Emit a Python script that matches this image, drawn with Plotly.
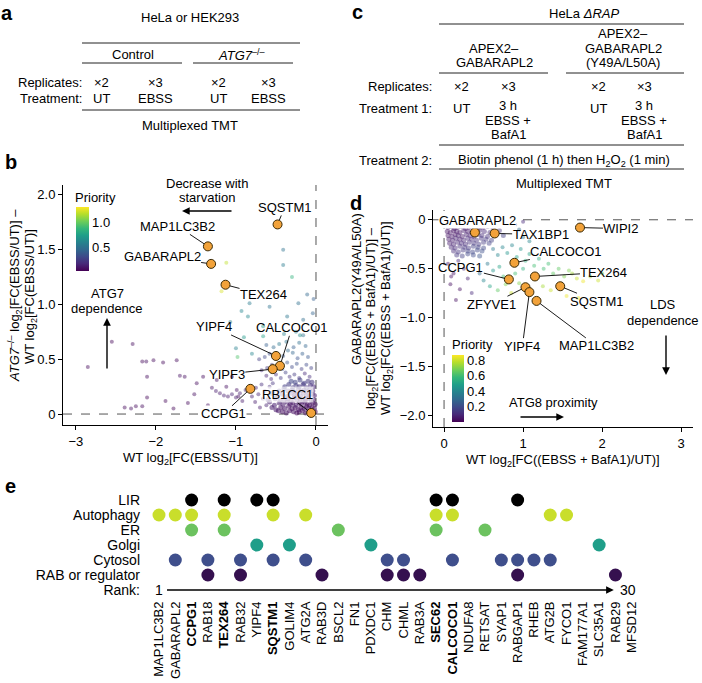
import plotly.graph_objects as go

W, H = 702, 683
FONT = "Liberation Sans, Arial, sans-serif"

# ---------------- panel b data ----------------
# dense low-priority core near the origin
b_core_x = [-0.01, -0.04, -0.07, -0.10, -0.13, -0.17, -0.21, -0.24, -0.28, -0.33, -0.37, -0.42, -0.47,
            -0.02, -0.05, -0.09, -0.12, -0.15, -0.19, -0.22, -0.26, -0.30, -0.34, -0.39, -0.44, -0.50, -0.55,
            -0.01, -0.04, -0.08, -0.11, -0.14, -0.18, -0.21, -0.25, -0.29, -0.32, -0.36, -0.41, -0.46, -0.52, -0.58,
            -0.03, -0.06, -0.10, -0.13, -0.16, -0.20, -0.24, -0.27, -0.31, -0.35, -0.40, -0.45, -0.51, -0.60,
            -0.02, -0.05, -0.09, -0.12, -0.16, -0.19, -0.23, -0.27, -0.31, -0.36, -0.42, -0.48, -0.56,
            -0.04, -0.08, -0.11, -0.15, -0.19, -0.22, -0.26, -0.30, -0.35, -0.40, -0.46,
            -0.03, -0.07, -0.12, -0.16, -0.21, -0.25, -0.29, -0.34, -0.39,
            -0.05, -0.10, -0.15, -0.20, -0.26, -0.31]
b_core_y = [0.02, 0.01, 0.03, 0.02, 0.01, 0.03, 0.02, 0.01, 0.02, 0.03, 0.01, 0.02, 0.03,
            0.05, 0.06, 0.05, 0.07, 0.05, 0.06, 0.04, 0.06, 0.05, 0.07, 0.05, 0.06, 0.04, 0.06,
            0.09, 0.10, 0.08, 0.09, 0.11, 0.09, 0.10, 0.08, 0.10, 0.09, 0.11, 0.09, 0.10, 0.08, 0.11,
            0.13, 0.12, 0.14, 0.13, 0.12, 0.14, 0.13, 0.15, 0.12, 0.14, 0.13, 0.12, 0.14, 0.13,
            0.17, 0.18, 0.16, 0.17, 0.19, 0.16, 0.18, 0.17, 0.19, 0.16, 0.18, 0.17, 0.19,
            0.21, 0.22, 0.20, 0.22, 0.21, 0.23, 0.20, 0.22, 0.21, 0.23, 0.21,
            0.25, 0.26, 0.24, 0.27, 0.25, 0.26, 0.24, 0.27, 0.25,
            0.29, 0.30, 0.28, 0.31, 0.29, 0.30]
b_core_p = [0.03, 0.02, 0.04, 0.03, 0.05, 0.02, 0.04, 0.03, 0.05, 0.04, 0.06, 0.05, 0.07,
            0.04, 0.03, 0.05, 0.04, 0.06, 0.03, 0.05, 0.04, 0.06, 0.05, 0.07, 0.06, 0.08, 0.09,
            0.05, 0.04, 0.06, 0.05, 0.07, 0.05, 0.06, 0.08, 0.06, 0.07, 0.09, 0.08, 0.10, 0.11, 0.12,
            0.07, 0.06, 0.08, 0.07, 0.09, 0.08, 0.10, 0.09, 0.11, 0.10, 0.12, 0.13, 0.14, 0.15,
            0.09, 0.10, 0.11, 0.10, 0.12, 0.11, 0.13, 0.12, 0.14, 0.15, 0.16, 0.17, 0.18,
            0.12, 0.13, 0.14, 0.15, 0.14, 0.16, 0.17, 0.18, 0.19, 0.20, 0.21,
            0.15, 0.17, 0.18, 0.19, 0.20, 0.22, 0.21, 0.23, 0.24,
            0.20, 0.22, 0.24, 0.25, 0.26, 0.28]

# remaining proteins
b_pts_x = [-2.85, -2.55, -2.29, -2.17, -2.12, -1.91, -2.11, -2.11, -2.39, -2.31,
           -2.25, -2.17, -1.78, -2.03, -1.70, -1.49, -1.74, -1.64, -1.41, -1.24,
           -1.12, -1.05, -0.99, -0.97, -1.60, -1.35, -1.52, -1.88,
           -1.30, -1.25, -1.20, -1.15, -1.10, -1.05, -1.00, -0.95, -0.92, -0.88,
           -0.62, -0.66, -0.70, -0.64, -0.72, -0.68, -0.76, -0.75, -0.80, -0.58, -0.53, -0.54,
           -0.08, -0.14, -0.21, -0.27, -0.33, -0.38, -0.44, -0.50, -0.56, -0.62,
           -0.06, -0.12, -0.18, -0.24, -0.30, -0.36, -0.42, -0.55, -0.61, -0.68,
           -0.10, -0.17, -0.23, -0.29, -0.35, -0.41, -0.58, -0.64, -0.71,
           -0.13, -0.21, -0.28, -0.37, -0.46, -0.53, -0.62, -0.16, -0.25, -0.40,
           -0.83, -0.58, -0.22, -0.11, -0.85, -1.07, -0.93, -0.36, -0.16, -0.04,
           -0.66, -0.20, -0.41, -0.41, -0.03, -0.66, -0.90, -0.80, -1.00,
           -1.12, -1.18, -0.98, -0.30]
b_pts_y = [0.43, 0.66, 0.64, 0.48, 0.48, 0.47, 0.34, 0.15, 0.06, 0.05,
           0.07, 0.07, 0.05, 0.49, 0.35, 0.28, 0.49, 0.34, 0.34, 0.31,
           0.25, 0.34, 0.22, 0.16, 0.10, 0.08, 0.18, 0.12,
           0.24, 0.21, 0.19, 0.17, 0.16, 0.18, 0.15, 0.19, 0.12, 0.22,
           0.08, 0.14, 0.06, 0.21, 0.18, 0.27, 0.11, 0.24, 0.16, 0.25, 0.20, 0.28,
           0.34, 0.37, 0.33, 0.36, 0.34, 0.38, 0.33, 0.36, 0.32, 0.35,
           0.42, 0.45, 0.41, 0.46, 0.43, 0.47, 0.41, 0.45, 0.42, 0.40,
           0.52, 0.55, 0.51, 0.56, 0.58, 0.53, 0.55, 0.52, 0.50,
           0.62, 0.65, 0.61, 0.66, 0.64, 0.61, 0.63, 0.72, 0.75, 0.73,
           1.01, 0.98, 1.01, 1.09, 0.89, 0.84, 0.94, 0.89, 0.86, 0.92,
           0.80, 0.72, 1.50, 1.36, 1.05, 0.71, 0.70, 0.55, 0.60,
           1.38, 1.12, 0.52, 1.25]
b_pts_p = [0.03, 0.02, 0.04, 0.03, 0.05, 0.03, 0.04, 0.02, 0.03, 0.05,
           0.03, 0.04, 0.02, 0.03, 0.06, 0.04, 0.03, 0.05, 0.04, 0.06,
           0.05, 0.04, 0.06, 0.05, 0.03, 0.04, 0.05, 0.02,
           0.08, 0.10, 0.09, 0.11, 0.10, 0.12, 0.10, 0.11, 0.09, 0.12,
           0.12, 0.14, 0.10, 0.16, 0.13, 0.18, 0.10, 0.15, 0.11, 0.17, 0.16, 0.20,
           0.18, 0.16, 0.21, 0.23, 0.19, 0.26, 0.22, 0.18, 0.15, 0.13,
           0.26, 0.30, 0.24, 0.33, 0.28, 0.35, 0.31, 0.24, 0.21, 0.18,
           0.36, 0.40, 0.34, 0.43, 0.46, 0.38, 0.32, 0.28, 0.24,
           0.43, 0.48, 0.40, 0.51, 0.53, 0.46, 0.40, 0.50, 0.56, 0.58,
           0.55, 0.50, 0.48, 0.45, 0.62, 0.58, 0.60, 0.52, 0.47, 0.42,
           0.70, 0.65, 0.50, 0.55, 0.40, 0.75, 0.72, 0.60, 0.58,
           1.20, 1.25, 0.95, 0.85]

b_hl_names = ["SQSTM1", "MAP1LC3B2", "GABARAPL2", "TEX264", "YIPF4", "CALCOCO1", "YIPF3", "CCPG1", "RB1CC1"]
b_hl_x = [-0.48, -1.35, -1.31, -1.13, -0.50, -0.45, -0.54, -0.82, -0.06]
b_hl_y = [1.73, 1.53, 1.37, 1.18, 0.53, 0.44, 0.41, 0.23, 0.01]

# ---------------- panel d data ----------------
d_core_x = [0.05, 0.09, 0.13, 0.17, 0.22, 0.27, 0.32, 0.37, 0.43, 0.49, 0.55, 0.62,
            0.04, 0.08, 0.12, 0.16, 0.20, 0.25, 0.30, 0.35, 0.45, 0.51, 0.58, 0.70,
            0.05, 0.10, 0.14, 0.18, 0.23, 0.28, 0.33, 0.38, 0.43, 0.48, 0.55, 0.62, 0.75,
            0.06, 0.11, 0.15, 0.20, 0.25, 0.30, 0.35, 0.41, 0.47, 0.53, 0.60,
            0.07, 0.12, 0.17, 0.22, 0.27, 0.32, 0.38, 0.44, 0.50, 0.57,
            0.09, 0.14, 0.20, 0.26, 0.31, 0.37, 0.43, 0.50,
            0.12, 0.18, 0.24, 0.30, 0.36, 0.42, 0.48,
            0.16, 0.23, 0.30, 0.37, 0.45]
d_core_y = [-0.08, -0.07, -0.09, -0.08, -0.07, -0.09, -0.08, -0.07, -0.09, -0.08, -0.07, -0.09,
            -0.12, -0.13, -0.11, -0.12, -0.13, -0.11, -0.12, -0.13, -0.11, -0.12, -0.13, -0.11,
            -0.16, -0.17, -0.15, -0.16, -0.17, -0.15, -0.16, -0.17, -0.15, -0.16, -0.17, -0.15, -0.16,
            -0.20, -0.21, -0.19, -0.20, -0.21, -0.19, -0.20, -0.21, -0.19, -0.20, -0.21,
            -0.24, -0.25, -0.23, -0.24, -0.25, -0.23, -0.24, -0.25, -0.23, -0.24,
            -0.28, -0.29, -0.27, -0.28, -0.29, -0.27, -0.28, -0.29,
            -0.32, -0.33, -0.31, -0.32, -0.33, -0.31, -0.32,
            -0.36, -0.37, -0.35, -0.36, -0.37]
d_core_p = [0.03, 0.04, 0.05, 0.04, 0.06, 0.05, 0.07, 0.06, 0.08, 0.07, 0.09, 0.10,
            0.04, 0.05, 0.04, 0.06, 0.05, 0.07, 0.06, 0.08, 0.09, 0.10, 0.11, 0.13,
            0.05, 0.06, 0.05, 0.07, 0.06, 0.08, 0.07, 0.09, 0.10, 0.11, 0.12, 0.14, 0.16,
            0.06, 0.07, 0.08, 0.07, 0.09, 0.10, 0.11, 0.12, 0.13, 0.14, 0.16,
            0.07, 0.08, 0.09, 0.10, 0.11, 0.12, 0.13, 0.14, 0.15, 0.17,
            0.09, 0.10, 0.12, 0.13, 0.14, 0.16, 0.17, 0.19,
            0.11, 0.13, 0.14, 0.16, 0.18, 0.19, 0.21,
            0.14, 0.16, 0.18, 0.20, 0.22]

d_pts_x = [0.62, 0.68, 0.74, 0.80, 0.86, 0.92, 0.97, 1.03, 1.08, 1.14,
           1.20, 1.26, 1.32, 1.38, 1.45, 1.52, 1.58, 1.62, 1.68, 1.76,
           1.85, 1.95, 2.00, 0.55, 0.62, 0.70, 0.75, 0.90, 0.95, 1.00,
           0.45, 0.50, 0.58, 0.68, 0.78, 0.85, 1.25, 1.35, 1.55, 1.70,
           1.00, 1.08, 0.95, 0.90, 1.00, 0.82, 0.72,
           0.08, 0.20, 0.09, 0.15, 0.30, 0.25, 0.12, 0.35, 0.05, 0.18]
d_pts_y = [-0.30, -0.36, -0.28, -0.34, -0.26, -0.38, -0.30, -0.42, -0.35, -0.47,
           -0.40, -0.50, -0.45, -0.55, -0.50, -0.58, -0.52, -0.55, -0.60, -0.63,
           -0.58, -0.62, -0.55, -0.45, -0.52, -0.48, -0.58, -0.55, -0.65, -0.50,
           -0.55, -0.62, -0.68, -0.72, -0.66, -0.75, -0.68, -0.72, -0.78, -0.80,
           -0.18, -0.22, -0.10, -0.05, -0.02, -0.03, -0.06,
           -0.66, -0.71, -0.58, -0.82, -0.60, -0.50, -0.55, -0.75, -0.45, -0.42]
d_pts_p = [0.35, 0.40, 0.40, 0.45, 0.40, 0.50, 0.45, 0.55, 0.50, 0.60,
           0.55, 0.60, 0.60, 0.65, 0.65, 0.70, 0.70, 0.75, 0.80, 0.85,
           0.75, 0.80, 0.70, 0.35, 0.45, 0.50, 0.60, 0.60, 0.70, 0.55,
           0.30, 0.40, 0.50, 0.65, 0.70, 0.80, 0.75, 0.80, 0.85, 0.85,
           0.35, 0.40, 0.30, 0.15, 0.10, 0.10, 0.15,
           0.03, 0.03, 0.04, 0.03, 0.08, 0.10, 0.05, 0.10, 0.04, 0.10]

d_hl_names = ["GABARAPL2", "TAX1BP1", "WIPI2", "CALCOCO1", "CCPG1", "TEX264", "SQSTM1", "ZFYVE1", "YIPF4", "MAP1LC3B2"]
d_hl_x = [0.39, 0.64, 1.72, 0.89, 0.82, 1.15, 1.47, 1.03, 1.08, 1.17]
d_hl_y = [-0.13, -0.14, -0.08, -0.44, -0.61, -0.58, -0.68, -0.69, -0.74, -0.83]

# ---------------- panel e data ----------------
e_genes = ["MAP1LC3B2", "GABARAPL2", "CCPG1", "RAB18", "TEX264", "RAB32", "YIPF4", "SQSTM1", "GOLIM4", "ATG2A",
           "RAB3D", "BSCL2", "FN1", "PDXDC1", "CHM", "CHML", "RAB3A", "SEC62", "CALCOCO1", "NDUFA8",
           "RETSAT", "SYAP1", "RABGAP1", "RHEB", "ATG2B", "FYCO1", "FAM177A1", "SLC35A1", "RAB29", "MFSD12"]
e_bold = ["CCPG1", "TEX264", "SQSTM1", "SEC62", "CALCOCO1"]
e_rows = ["Rank:", "RAB or regulator", "Cytosol", "Golgi", "ER", "Autophagy", "LIR"]
e_lir = ["CCPG1", "TEX264", "YIPF4", "SQSTM1", "SEC62", "CALCOCO1", "RABGAP1"]
e_autophagy = ["MAP1LC3B2", "GABARAPL2", "CCPG1", "TEX264", "SQSTM1", "ATG2A", "SEC62", "CALCOCO1", "ATG2B", "FYCO1"]
e_er = ["CCPG1", "TEX264", "BSCL2", "SEC62", "RETSAT"]
e_golgi = ["YIPF4", "GOLIM4", "PDXDC1", "SLC35A1"]
e_cytosol = ["GABARAPL2", "RAB18", "RAB32", "SQSTM1", "ATG2A", "CHM", "CHML", "CALCOCO1", "SYAP1", "RABGAP1", "RHEB", "ATG2B"]
e_rab = ["RAB18", "RAB32", "RAB3D", "CHM", "CHML", "RAB3A", "RABGAP1", "RAB29"]


def px(x):
    return x / W


def py(y):
    return 1 - y / H


fig = go.Figure()

# panel b
fig.add_trace(go.Scatter(x=b_pts_x, y=b_pts_y, mode="markers", xaxis="x", yaxis="y",
                         marker=dict(size=4, color=b_pts_p, coloraxis="coloraxis", opacity=0.45, line_width=0),
                         hoverinfo="skip", showlegend=False))
fig.add_trace(go.Scatter(x=b_core_x, y=b_core_y, mode="markers", xaxis="x", yaxis="y",
                         marker=dict(size=5, color=b_core_p, coloraxis="coloraxis", opacity=0.55, line_width=0),
                         hoverinfo="skip", showlegend=False))
fig.add_trace(go.Scatter(x=b_hl_x, y=b_hl_y, mode="markers", xaxis="x", yaxis="y",
                         marker=dict(size=9, color="#f2a23a", line=dict(color="#3a2a05", width=1)),
                         text=b_hl_names, showlegend=False))

# panel d
fig.add_trace(go.Scatter(x=d_pts_x, y=d_pts_y, mode="markers", xaxis="x2", yaxis="y2",
                         marker=dict(size=4, color=d_pts_p, coloraxis="coloraxis2", opacity=0.45, line_width=0),
                         hoverinfo="skip", showlegend=False))
fig.add_trace(go.Scatter(x=d_core_x, y=d_core_y, mode="markers", xaxis="x2", yaxis="y2",
                         marker=dict(size=5, color=d_core_p, coloraxis="coloraxis2", opacity=0.45, line_width=0),
                         hoverinfo="skip", showlegend=False))
fig.add_trace(go.Scatter(x=d_hl_x, y=d_hl_y, mode="markers", xaxis="x2", yaxis="y2",
                         marker=dict(size=9, color="#f2a23a", line=dict(color="#3a2a05", width=1)),
                         text=d_hl_names, showlegend=False))

# panel e
row_sets = [(e_rab, "#35104f", 1), (e_cytosol, "#3f4f8c", 2), (e_golgi, "#1f9e89", 3),
            (e_er, "#6cc25f", 4), (e_autophagy, "#c9de2b", 5), (e_lir, "#000000", 6)]
for genes, col, r in row_sets:
    fig.add_trace(go.Scatter(x=[e_genes.index(g) + 1 for g in genes], y=[r] * len(genes),
                             mode="markers", xaxis="x3", yaxis="y3",
                             marker=dict(size=13, color=col, line_width=0),
                             text=genes, showlegend=False))

ann = []
shapes = []


def text(x, y, s, size=13, anchor="center", angle=0):
    ann.append(dict(x=px(x), y=py(y), xref="paper", yref="paper", text=s, showarrow=False,
                    xanchor=anchor, yanchor="middle", textangle=angle,
                    font=dict(size=size, family=FONT, color="black")))


def lines(x, ys, parts, anchor="center"):
    # one annotation per line, so the line spacing can follow the reference
    for y, s in zip(ys, parts):
        text(x, y, s, anchor=anchor)


def hline(x0, x1, y):
    shapes.append(dict(type="line", xref="paper", yref="paper", x0=px(x0), x1=px(x1),
                       y0=py(y), y1=py(y), line=dict(color="#222", width=1)))


def arrow(xt, yt, xh, yh):
    ann.append(dict(x=px(xh), y=py(yh), xref="paper", yref="paper", ax=xt - xh, ay=yt - yh,
                    text="", showarrow=True, arrowhead=2, arrowsize=1.1, arrowwidth=1.4,
                    arrowcolor="black"))


# panel letters
for lx, ly, s in [(7, 13, "a"), (357, 12, "c"), (11, 162, "b"), (356, 203, "d"), (10, 486, "e")]:
    text(lx, ly, "<b>" + s + "</b>", size=20)

# panel a table
text(190, 17, "HeLa or HEK293")
hline(82, 300, 43)
text(133, 55, "Control")
text(242, 55, "<i>ATG7</i><sup>–/–</sup>")
hline(82, 182, 63)
hline(193, 293, 63)
text(84, 82, "Replicates:", anchor="right")
text(84, 98, "Treatment:", anchor="right")
for xx, a1, a2 in [(101, "×2", "UT"), (155, "×3", "EBSS"), (218, "×2", "UT"), (268, "×3", "EBSS")]:
    text(xx, 82, a1)
    text(xx, 98, a2)
hline(82, 300, 110)
text(190, 126, "Multiplexed TMT")

# panel c table
text(584, 13, "HeLa <i>ΔRAP</i>")
hline(439, 684, 24)
lines(494, [48, 63], ["APEX2–", "GABARAPL2"])
lines(623, [33, 48, 63], ["APEX2–", "GABARAPL2", "(Y49A/L50A)"])
hline(439, 548, 73)
hline(566, 684, 73)
text(434, 87, "Replicates:", anchor="right")
text(434, 108, "Treatment 1:", anchor="right")
for xx, a1, a2 in [(461, "×2", "UT"), (598, "×2", "UT")]:
    text(xx, 87, a1)
    text(xx, 108, a2)
for xx in [508, 644]:
    text(xx, 87, "×3")
    lines(xx, [105, 120, 135], ["3 h", "EBSS +", "BafA1"])
hline(439, 684, 145)
text(434, 160, "Treatment 2:", anchor="right")
text(564, 160, "Biotin phenol (1 h) then H<sub>2</sub>O<sub>2</sub> (1 min)")
hline(439, 684, 169)
text(564, 183, "Multiplexed TMT")

# panel b annotations
lines(207, [183, 197], ["Decrease with", "starvation"])
arrow(233, 211, 182, 211)
lines(107, [294, 308], ["ATG7", "dependence"])
arrow(107, 370, 107, 318)
text(190, 458, "WT log<sub>2</sub>[FC(EBSS/UT)]")
text(15, 296, "<i>ATG7</i><sup>–/–</sup> log<sub>2</sub>[FC(EBSS/UT)] –", angle=-90)
text(31, 297, "WT log<sub>2</sub>[FC(EBSS/UT)]", angle=-90)
text(73, 197, "Priority", anchor="left")

b_offsets = [(7, -17), (-30, -20), (-49, -7), (38, 10), (-62, -29), (12, -38), (-46, 5), (-27, 25), (-24, -18)]
b_bg = {"CCPG1": "white", "RB1CC1": "rgba(255,255,255,0.7)"}
for name, x, y, (dx, dy) in zip(b_hl_names, b_hl_x, b_hl_y, b_offsets):
    ann.append(dict(x=x, y=y, xref="x", yref="y", text=name, ax=dx, ay=dy, showarrow=True,
                    arrowhead=0, arrowwidth=0.9, arrowcolor="black", standoff=4.5,
                    bgcolor=b_bg.get(name, "rgba(0,0,0,0)"), borderpad=0,
                    font=dict(size=13, family=FONT, color="black")))

# panel d annotations
lines(663, [305, 320], ["LDS", "dependence"])
arrow(666, 334, 666, 375)
text(553, 402, "ATG8 proximity")
arrow(519, 417, 564, 417)
text(563, 460, "WT log<sub>2</sub>[FC((EBSS + BafA1)/UT)]")
text(357, 289, "GABARAPL2(Y49A/L50A)", angle=-90)
text(372, 318, "log<sub>2</sub>[FC((EBSS + BafA1)/UT)] –", angle=-90)
text(387, 318, "WT log<sub>2</sub>[FC((EBSS + BafA1)/UT)]", angle=-90)
text(450, 344, "Priority", anchor="left")

d_offsets = [(3, -12), (46, 1), (41, 1), (52, -11), (-48, -12), (69, -4), (36, 15), (-34, 17), (-7, 54), (60, 45)]
d_bg = {"GABARAPL2": "white"}
for name, x, y, (dx, dy) in zip(d_hl_names, d_hl_x, d_hl_y, d_offsets):
    ann.append(dict(x=x, y=y, xref="x2", yref="y2", text=name, ax=dx, ay=dy, showarrow=True,
                    arrowhead=0, arrowwidth=0.9, arrowcolor="black", standoff=4.5,
                    bgcolor=d_bg.get(name, "rgba(0,0,0,0)"), borderpad=0,
                    font=dict(size=13, family=FONT, color="black")))

# panel e rank axis
ann.append(dict(x=28.9, y=0, xref="x3", yref="y3", ax=1.4, ay=0, axref="x3", ayref="y3",
                text="", showarrow=True, arrowhead=2, arrowsize=1.1, arrowwidth=1.4, arrowcolor="black"))
ann.append(dict(x=1, y=0, xref="x3", yref="y3", text="1", showarrow=False,
                font=dict(size=14, family=FONT, color="black")))
ann.append(dict(x=29.8, y=0, xref="x3", yref="y3", text="30", showarrow=False,
                font=dict(size=14, family=FONT, color="black")))

# dashed reference lines
for xr, yr in [("x", "y"), ("x2", "y2")]:
    shapes.append(dict(type="line", xref=xr, yref=yr + " domain", x0=0, x1=0, y0=0, y1=1,
                       line=dict(color="#555", width=1, dash="dash"), layer="below"))
    shapes.append(dict(type="line", xref=xr + " domain", yref=yr, x0=0, x1=1, y0=0, y1=0,
                       line=dict(color="#555", width=1, dash="dash"), layer="below"))

axis_style = dict(showline=True, linecolor="black", linewidth=1, ticks="outside", ticklen=4,
                  tickwidth=1, tickcolor="black", showgrid=False, zeroline=False,
                  tickfont=dict(size=13, family=FONT, color="black"), automargin=False)

fig.update_layout(
    width=W, height=H, margin=dict(l=0, r=0, t=0, b=0),
    template="none", paper_bgcolor="white", plot_bgcolor="white",
    font=dict(family=FONT, size=13, color="black"),
    xaxis=dict(domain=[px(63), px(328)], range=[-3.16, 0.15], anchor="y",
               tickvals=[-3, -2, -1, 0], **axis_style),
    yaxis=dict(domain=[py(425), py(185)], range=[-0.1, 2.09], anchor="x",
               tickvals=[0, 0.5, 1.0, 1.5, 2.0], ticktext=["0", "0.5", "1.0", "1.5", "2.0"], **axis_style),
    xaxis2=dict(domain=[px(433), px(693)], range=[-0.14, 3.15], anchor="y2",
                tickvals=[0, 1, 2, 3], **axis_style),
    yaxis2=dict(domain=[py(427), py(210)], range=[-2.12, 0.1], anchor="x2",
                tickvals=[0, -0.5, -1.0, -1.5, -2.0], ticktext=["0", "−0.5", "−1.0", "−1.5", "−2.0"],
                **axis_style),
    xaxis3=dict(domain=[px(141), px(650)], range=[-0.104, 31.12], anchor="y3",
                tickvals=list(range(1, len(e_genes) + 1)),
                ticktext=["<b>" + g + "</b>" if g in e_bold else g for g in e_genes],
                tickangle=-90, showline=False, ticks="", showgrid=False, zeroline=False,
                tickfont=dict(size=13, family=FONT, color="black"), automargin=False),
    yaxis3=dict(domain=[py(598), py(485)], range=[-0.533, 7.0], anchor="x3",
                tickvals=list(range(len(e_rows))), ticktext=e_rows,
                showline=False, ticks="", showgrid=False, zeroline=False,
                tickfont=dict(size=14, family=FONT, color="black"), automargin=False),
    coloraxis=dict(colorscale="Viridis", cmin=0, cmax=1.33,
                   colorbar=dict(x=px(76), xanchor="left", y=py(207), yanchor="top",
                                 lenmode="pixels", len=64, thicknessmode="pixels", thickness=13,
                                 xpad=0, ypad=0, outlinewidth=0, ticks="",
                                 tickvals=[0.5, 1.0], ticktext=["0.5", "1.0"],
                                 tickfont=dict(size=13, family=FONT, color="black"))),
    coloraxis2=dict(colorscale="Viridis", cmin=0, cmax=0.87,
                    colorbar=dict(x=px(452), xanchor="left", y=py(355), yanchor="top",
                                  lenmode="pixels", len=67, thicknessmode="pixels", thickness=12,
                                  xpad=0, ypad=0, outlinewidth=0, ticks="",
                                  tickvals=[0.2, 0.4, 0.6, 0.8], ticktext=["0.2", "0.4", "0.6", "0.8"],
                                  tickfont=dict(size=13, family=FONT, color="black"))),
    annotations=ann, shapes=shapes,
)

fig.write_html("out.html", config={"displayModeBar": False},
               post_script="document.body.style.margin='0';")
